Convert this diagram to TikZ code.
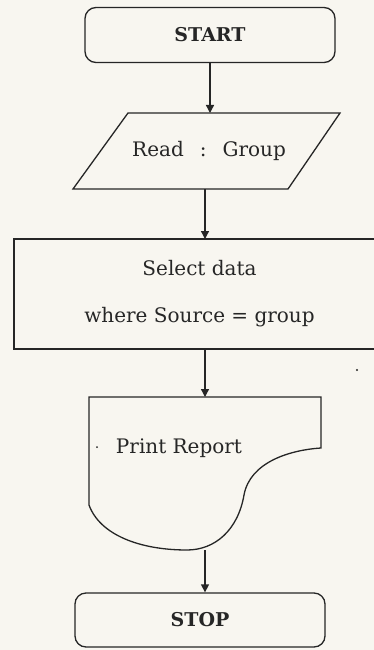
\documentclass[tikz,border=0pt]{standalone}
\usepackage{fontspec}
\setmainfont{DejaVu Serif}
\usetikzlibrary{arrows.meta}
\definecolor{ink}{HTML}{262626}
\definecolor{paper}{HTML}{F8F6F0}
\tikzset{
  ln/.style={draw=ink, line width=1.3pt},
  arr/.style={ln, -{Triangle[length=8pt,width=8pt]}},
  txt/.style={font=\fontsize{20}{47}\selectfont, text=ink},
  term/.style={ln, rounded corners=11pt, minimum width=250pt, minimum height=55pt,
    inner sep=0pt, font=\fontsize{19}{21}\selectfont\bfseries, text=ink},
  box/.style={inner sep=0pt, outer sep=0pt}
}
\begin{document}
\begin{tikzpicture}[x=1pt,y=-1pt]
\useasboundingbox (0,0) rectangle (374,650);
\fill[paper] (0,0) rectangle (374,650);

% START
\node[term] (start) at (210,35) {START};

% Read : Group (parallelogram)
\draw[ln] (128,113) -- (340,113) -- (288,189) -- (73,189) -- cycle;
\node[box, txt, minimum width=267pt, minimum height=76pt] (read) at (209,151)
  {Read\hspace{16pt}:\hspace{16pt}Group};

% Select data (box running off the right edge)
\draw[ln] (375,239) -- (14,239) -- (14,349) -- (375,349);
\node[box, txt, align=center, minimum width=371pt, minimum height=110pt] (sel) at (199.5,294)
  {Select data\\where Source = group};

% Print Report (document shape)
\node[box, minimum width=232pt, minimum height=153pt] (doc) at (205,473.5) {};
\draw[ln] (89,397) -- (321,397) -- (321,448)
  .. controls (290,450) and (250,462) .. (244,495)
  .. controls (238,530) and (215,550) .. (187,550)
  .. controls (140,550) and (100,535) .. (89,505) -- cycle;
\node[txt, anchor=base, inner sep=0pt] (doctext) at (179,453) {Print Report};

% STOP
\node[term, minimum height=54pt] (stop) at (200,620) {STOP};

% connectors
\draw[arr] (start.south) -- (start.south |- read.north);
\draw[arr] (read.south -| doc.north) -- (sel.north -| doc.north);
\draw[arr] (sel.south -| doc.north) -- (doc.north);
\draw[arr] (doc.south) -- (doc.south |- stop.north);

% specks printed in the picture
\fill[ink] (97,447) circle (1pt);
\fill[ink] (357,370) circle (1.2pt);
\end{tikzpicture}
\end{document}
